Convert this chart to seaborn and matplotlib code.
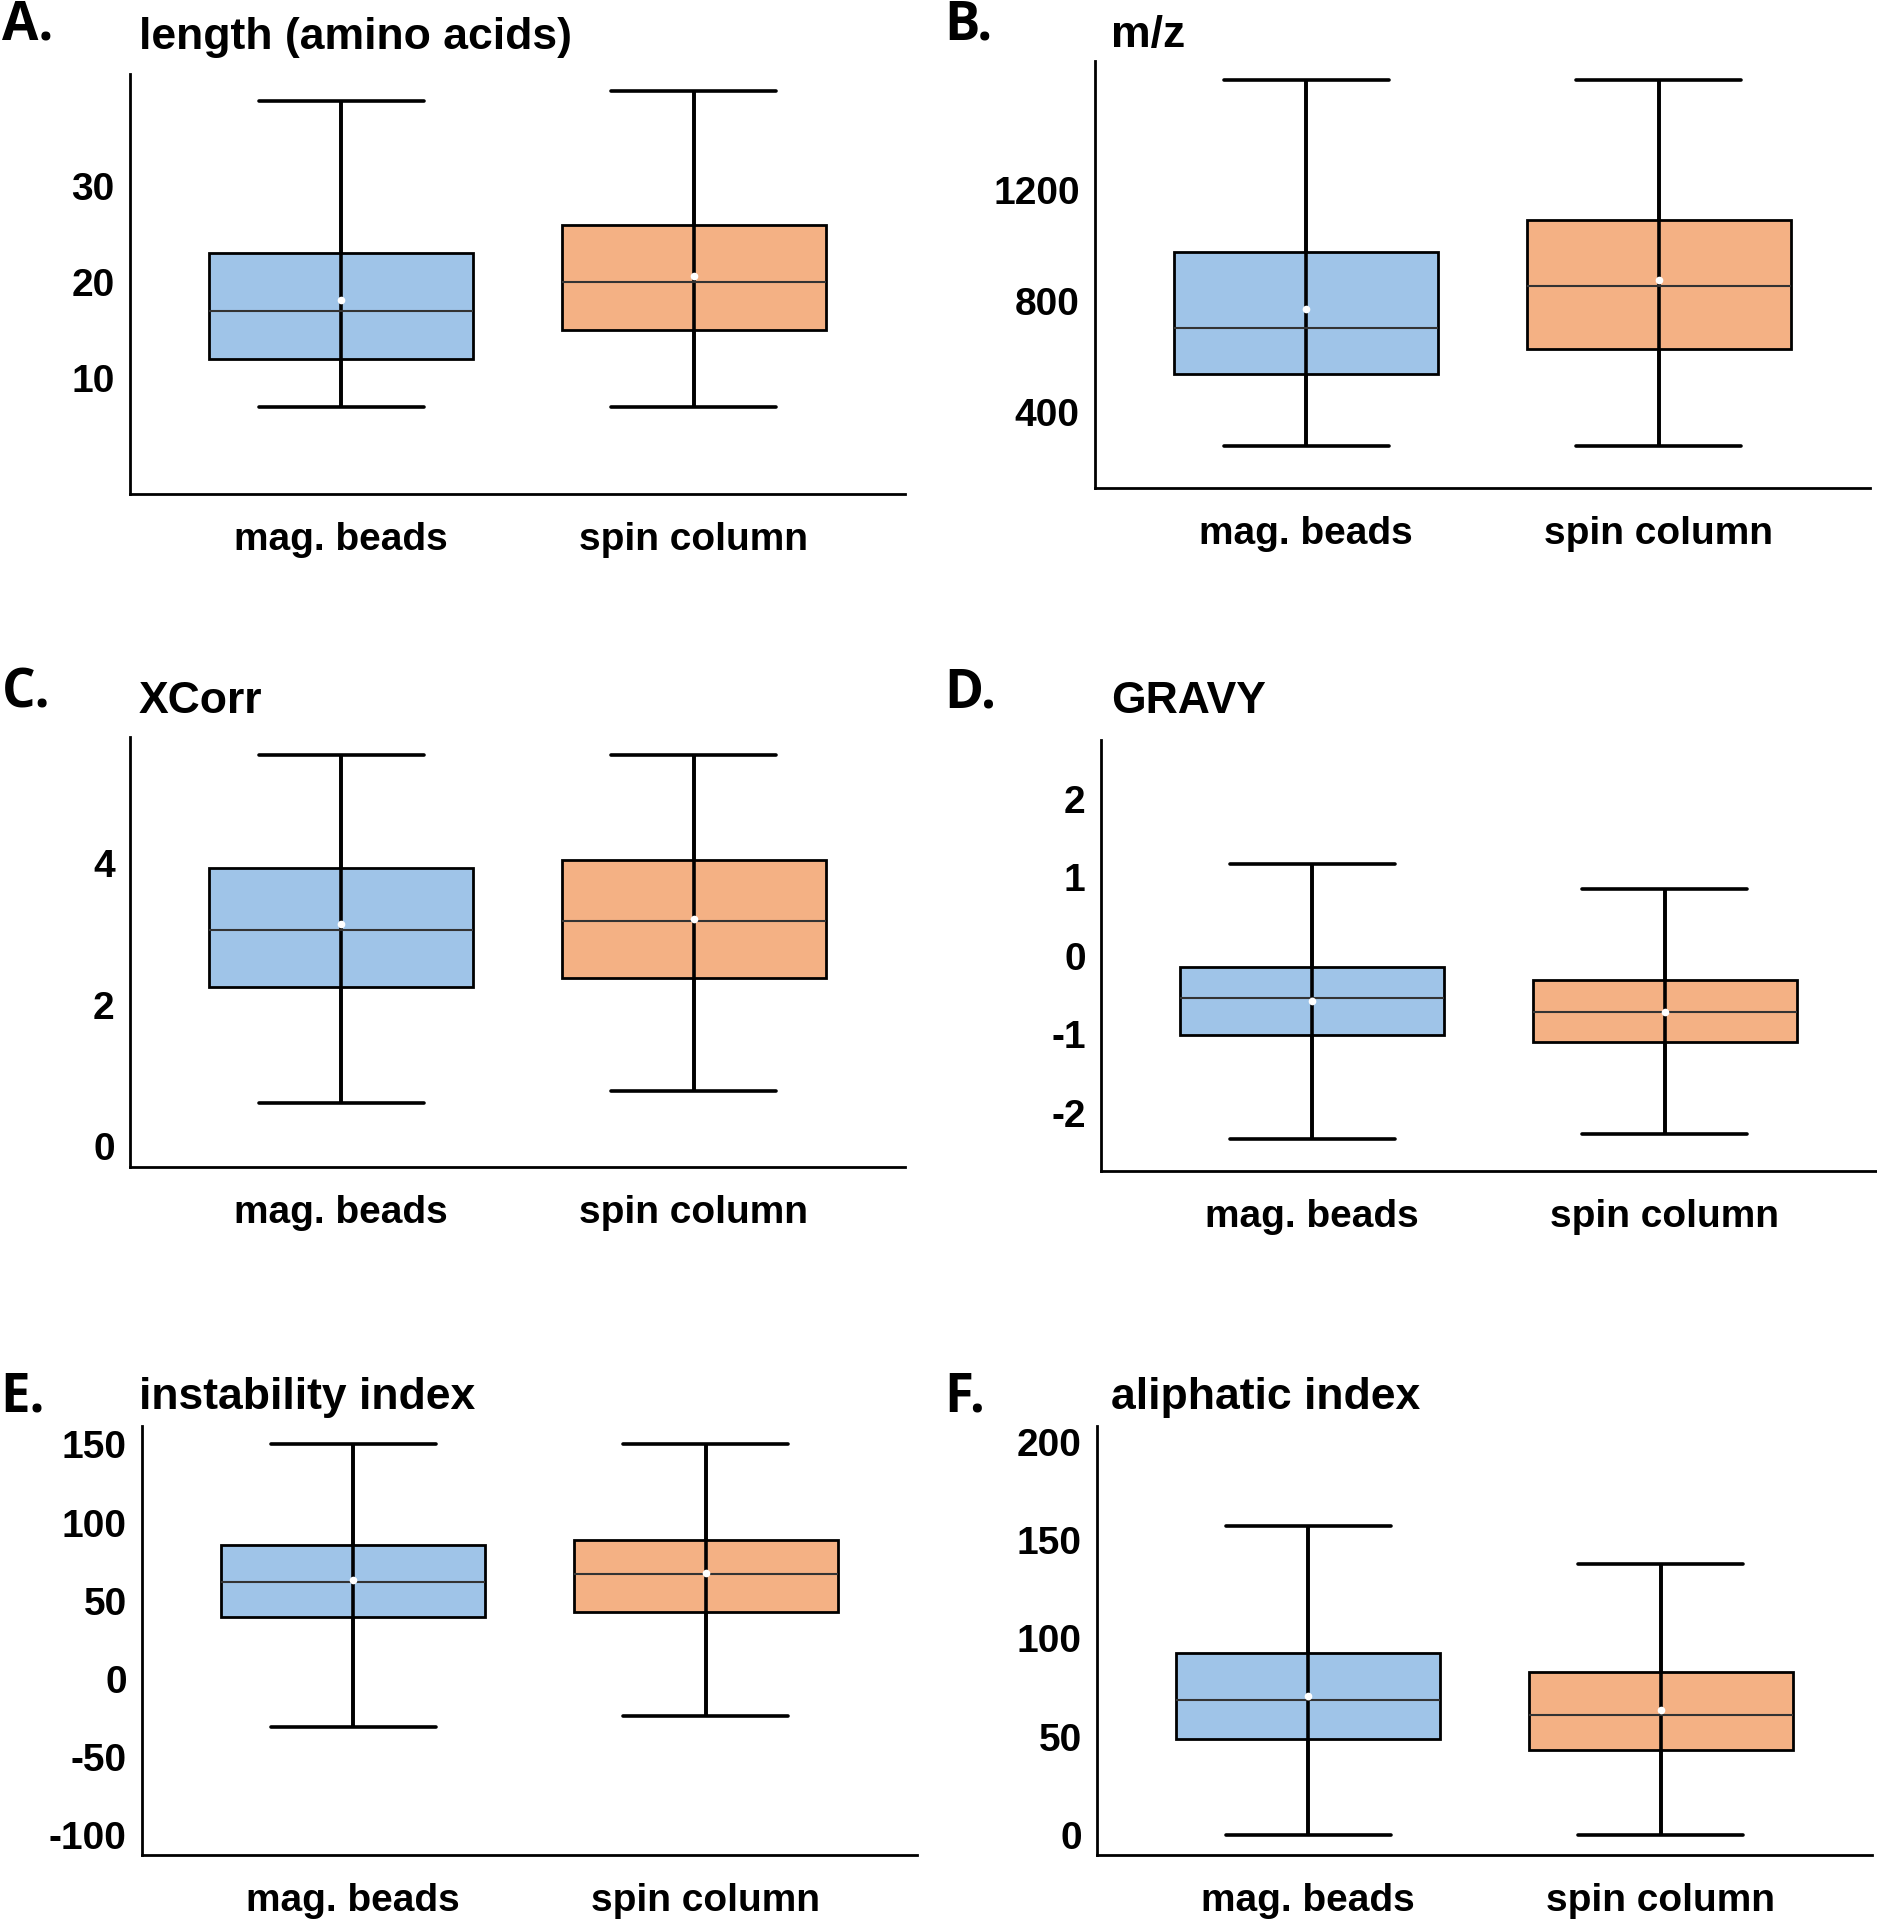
import matplotlib
matplotlib.use("Agg")
import matplotlib.pyplot as plt
import pandas as pd
import seaborn as sns

groups = ["mag. beads", "spin column"]
box_colors = ["#9fc4e8", "#f4b184"]

# five-number summaries: min, q1, median, q3, max
length_mag = [7, 12, 17, 23, 38.8]
length_spin = [7, 15, 20, 25.9, 39.8]
length_mean = [18.1, 20.6]

mz_mag = [277, 537, 704, 978, 1595]
mz_spin = [277, 629, 853, 1091, 1595]
mz_mean = [771, 876]

xcorr_mag = [0.61, 2.25, 3.05, 3.92, 5.51]
xcorr_spin = [0.78, 2.37, 3.17, 4.03, 5.51]
xcorr_mean = [3.13, 3.21]

gravy_mag = [-2.33, -1.01, -0.535, -0.14, 1.17]
gravy_spin = [-2.27, -1.10, -0.71, -0.31, 0.85]
gravy_mean = [-0.575, -0.72]

instab_mag = [-30.9, 39.3, 62.2, 85.8, 150]
instab_spin = [-24.0, 43.0, 67.2, 89.0, 150]
instab_mean = [63.4, 67.5]

aliph_mag = [0, 48.7, 68.5, 92.4, 157]
aliph_spin = [0, 43.3, 61.1, 82.9, 138]
aliph_mean = [70.9, 63.5]

titles = ["length (amino acids)", "m/z", "XCorr", "GRAVY",
          "instability index", "aliphatic index"]
letters = ["A.", "B.", "C.", "D.", "E.", "F."]

W, H = 1877, 1922
sns.set_style("white")
plt.rcParams["font.family"] = ["Liberation Sans", "DejaVu Sans"]
plt.rcParams["text.color"] = "black"
fig = plt.figure(figsize=(W / 100, H / 100), dpi=100)

panels = [
    # summaries, means, yticks, ytick labels, ylim, axes box (left, top, bottom) in px,
    # title position, letter position
    (length_mag, length_spin, length_mean, [0, 10, 20, 30, 40], ["", "10", "20", "30", ""],
     (-2, 41.6), (130, 74, 494), (139, 37), (2, 25)),
    (mz_mag, mz_spin, mz_mean, [400, 800, 1200, 1600], ["400", "800", "1200", ""],
     (127, 1665), (1095, 61, 488), (1111, 35), (944, 25)),
    (xcorr_mag, xcorr_spin, xcorr_mean, [0, 2, 4], ["0", "2", "4"],
     (-0.29, 5.77), (130, 737, 1167), (139, 701), (2, 693)),
    (gravy_mag, gravy_spin, gravy_mean, [-2, -1, 0, 1, 2], ["-2", "-1", "0", "1", "2"],
     (-2.74, 2.75), (1101, 740, 1171), (1111, 701), (944, 693)),
    (instab_mag, instab_spin, instab_mean, [-100, -50, 0, 50, 100, 150],
     ["-100", "-50", "0", "50", "100", "150"],
     (-112.8, 161.8), (142, 1426, 1855), (139, 1398), (0, 1397)),
    (aliph_mag, aliph_spin, aliph_mean, [0, 50, 100, 150, 200],
     ["0", "50", "100", "150", "200"],
     (-10.2, 208), (1097, 1426, 1855), (1111, 1398), (944, 1397)),
]

for i, (mag, spin, means, yt, ytl, ylim, box, tpos, lpos) in enumerate(panels):
    left, top, bottom = box
    width = 775
    ax = fig.add_axes([left / W, 1 - bottom / H, width / W, (bottom - top) / H])

    df = pd.DataFrame({"group": [groups[0]] * 5 + [groups[1]] * 5,
                       "value": list(mag) + list(spin)})
    sns.boxplot(data=df, x="group", y="value", hue="group", palette=box_colors,
                saturation=1, width=0.75, whis=(0, 100), linecolor="black",
                linewidth=2.0, capwidths=0.47, legend=False, ax=ax,
                medianprops=dict(color="#333333", linewidth=1.5),
                whiskerprops=dict(linewidth=2.6), capprops=dict(linewidth=2.6))

    # whisker line running straight through the box, min to max
    thru = pd.DataFrame({"group": [groups[0]] * 5 + [groups[1]] * 5,
                         "value": [mag[0], mag[2], mag[2], mag[2], mag[4],
                                   spin[0], spin[2], spin[2], spin[2], spin[4]]})
    sns.boxplot(data=thru, x="group", y="value", color="black", width=0.75,
                whis=(0, 100), ax=ax,
                boxprops=dict(visible=False), medianprops=dict(visible=False),
                capprops=dict(visible=False),
                whiskerprops=dict(color="black", linewidth=2.6))

    sns.stripplot(x=groups, y=means, jitter=False, color="white", size=5.5,
                  linewidth=0, zorder=10, ax=ax)

    ax.set_xlim(-0.6, 1.6)
    ax.set_ylim(*ylim)
    ax.set_yticks(yt)
    ax.set_yticklabels(ytl)
    ax.set_xlabel("")
    ax.set_ylabel("")
    for side in ["top", "right"]:
        ax.spines[side].set_visible(False)
    for side in ["left", "bottom"]:
        ax.spines[side].set_linewidth(2.0)
        ax.spines[side].set_color("black")
    ax.tick_params(axis="y", length=3, width=1.2, pad=8, labelsize=28, colors="black")
    ax.tick_params(axis="x", length=3, width=1, pad=17, labelsize=28, colors="black")
    for lab in ax.get_xticklabels() + ax.get_yticklabels():
        lab.set_fontweight("bold")

    fig.text(tpos[0] / W, 1 - tpos[1] / H, titles[i], fontsize=32,
             fontweight="bold", va="center", ha="left", color="black")
    fig.text(lpos[0] / W, 1 - lpos[1] / H, letters[i], fontsize=38,
             fontweight="bold", va="center", ha="left", color="black",
             family=["Open Sans", "DejaVu Sans"])

fig.savefig("out.png", dpi=100, facecolor="white")
